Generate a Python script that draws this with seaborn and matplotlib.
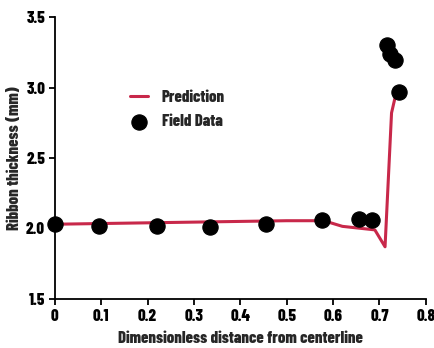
import matplotlib.pyplot as plt
import pandas as pd
import seaborn as sns

# Prediccion del modelo
pred_x = [0.0, 0.1, 0.2, 0.3, 0.4, 0.5, 0.58, 0.62, 0.69, 0.712, 0.726, 0.733, 0.742]
pred_y = [2.03, 2.035, 2.04, 2.045, 2.05, 2.055, 2.055, 2.015, 1.99, 1.87, 2.82, 2.92, 2.96]

# Datos de campo
campo_x = [0.0, 0.095, 0.22, 0.335, 0.455, 0.577, 0.655, 0.683, 0.717, 0.722, 0.733, 0.742]
campo_y = [2.03, 2.02, 2.02, 2.01, 2.03, 2.06, 2.065, 2.06, 3.305, 3.235, 3.195, 2.968]

x_ticks = [0, 0.1, 0.2, 0.3, 0.4, 0.5, 0.6, 0.7, 0.8]
x_labels = ["0", "0.1", "0.2", "0.3", "0.4", "0.5", "0.6", "0.7", "0.8"]
y_ticks = [1.5, 2.0, 2.5, 3.0, 3.5]

PESO = 800

sns.set_style("white")
plt.rcParams["font.family"] = ["Barlow Condensed", "DejaVu Sans"]
plt.rcParams["font.weight"] = PESO

prediccion = pd.DataFrame({"x": pred_x, "y": pred_y})
campo = pd.DataFrame({"x": campo_x, "y": campo_y})

fig = plt.figure(figsize=(4.35, 3.48), dpi=100)
ax = fig.add_axes([0.126, 0.141, 0.853, 0.81])

sns.lineplot(data=prediccion, x="x", y="y", color="#c8284a", linewidth=2.2,
             label="Prediction", ax=ax, zorder=2)
sns.scatterplot(data=campo, x="x", y="y", color="black", s=120,
                edgecolor="black", label="Field Data", ax=ax, zorder=3,
                clip_on=False)

ax.set_xlim(0, 0.8)
ax.set_ylim(1.5, 3.5)
ax.set_xticks(x_ticks)
ax.set_xticklabels(x_labels)
ax.set_yticks(y_ticks)
ax.set_yticklabels([f"{v:.1f}" for v in y_ticks])
ax.tick_params(direction="out", length=4, width=1.3, labelsize=12,
               bottom=True, left=True, colors="black", pad=3)
for lbl in ax.get_xticklabels() + ax.get_yticklabels():
    lbl.set_fontweight(PESO)

ax.set_xlabel("Dimensionless distance from centerline", fontsize=12,
              fontweight=PESO, labelpad=5)
ax.set_ylabel("Ribbon thickness (mm)", fontsize=12, fontweight=PESO,
              labelpad=3)

sns.despine(ax=ax)
for lado in ["left", "bottom"]:
    ax.spines[lado].set_linewidth(1.3)
    ax.spines[lado].set_color("black")

ax.legend(loc="upper left", bbox_to_anchor=(0.162, 0.795), frameon=False,
          prop={"weight": PESO, "size": 12}, handlelength=1.1,
          labelspacing=0.55, handletextpad=0.8)

fig.savefig("out.png", dpi=100)
